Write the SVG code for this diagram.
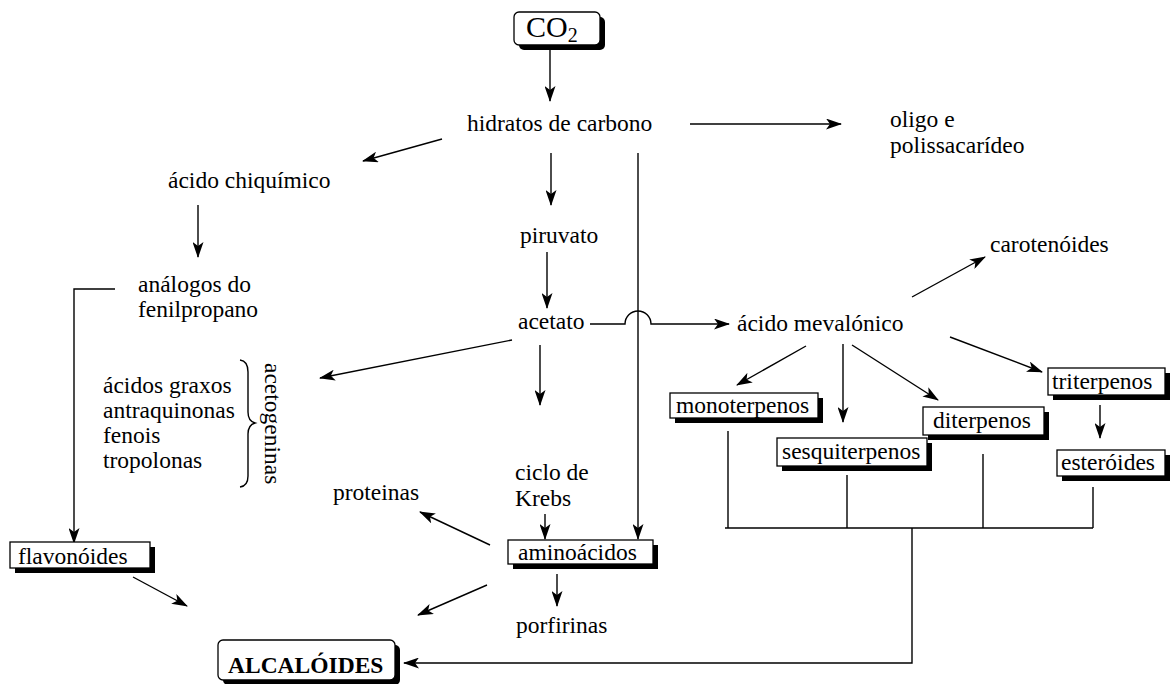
<svg xmlns="http://www.w3.org/2000/svg" width="1175" height="684" viewBox="0 0 1175 684">
<style>
text{font-family:"Liberation Serif","Times New Roman",serif;font-size:23.5px;fill:#000}
.b{font-weight:bold}
.ln{stroke:#000;stroke-width:1.4;fill:none}
.ar{stroke:#000;stroke-width:1.4;fill:none;marker-end:url(#ah)}
.sh{fill:#000}
.bx{fill:#fff;stroke:#000;stroke-width:1.3}
</style>
<defs>
<marker id="ah" viewBox="0 0 16 11" refX="15" refY="5.5" markerWidth="16" markerHeight="11" markerUnits="userSpaceOnUse" orient="auto"><path d="M0,0 L16,5.5 L0,11 L4,5.5 z" fill="#000"/></marker>
</defs>
<rect width="1175" height="684" fill="#fff"/>
<g id="connectors">
<line class="ar" x1="550" y1="50" x2="550" y2="101"/>
<line class="ar" x1="690" y1="124" x2="841" y2="124"/>
<line class="ar" x1="442" y1="139" x2="363" y2="161"/>
<line class="ar" x1="198" y1="205" x2="198" y2="257"/>
<polyline class="ar" points="115,289 74,289 74,543"/>
<line class="ar" x1="133" y1="577" x2="187" y2="606"/>
<line class="ar" x1="551" y1="153" x2="551" y2="205"/>
<line class="ar" x1="547" y1="252" x2="547" y2="308"/>
<line class="ar" x1="638" y1="153" x2="638" y2="539"/>
<path class="ar" d="M590,324 H625 A13,13 0 0 1 651,324 H729"/>
<line class="ar" x1="512" y1="340" x2="320" y2="378"/>
<line class="ar" x1="540" y1="345" x2="540" y2="405"/>
<line class="ar" x1="545" y1="514" x2="545" y2="539"/>
<line class="ar" x1="490" y1="545" x2="420" y2="512"/>
<line class="ar" x1="557" y1="574" x2="557" y2="606"/>
<line class="ar" x1="487" y1="585" x2="418" y2="615"/>
<line class="ar" x1="912" y1="297" x2="985" y2="257"/>
<line class="ar" x1="806" y1="346" x2="737" y2="385"/>
<line class="ar" x1="843" y1="344" x2="843" y2="422"/>
<line class="ar" x1="852" y1="345" x2="938" y2="400"/>
<line class="ar" x1="950" y1="337" x2="1042" y2="372"/>
<line class="ar" x1="1100" y1="405" x2="1100" y2="438"/>
<line class="ln" x1="728" y1="431" x2="728" y2="528"/>
<line class="ln" x1="847" y1="475" x2="847" y2="528"/>
<line class="ln" x1="983" y1="454" x2="983" y2="528"/>
<line class="ln" x1="1093" y1="487" x2="1093" y2="528"/>
<line class="ln" x1="725" y1="528" x2="1093" y2="528"/>
<polyline class="ar" points="912,528 912,663 404,663"/>
<path class="ln" d="M240,360 Q248,361 248,372 L248,412 Q248,421 255,423 Q248,425 248,434 L248,476 Q248,486 240,487"/>
</g>
<g id="co2">
<rect class="sh" x="519" y="17" width="86" height="33" rx="5"/>
<rect class="bx" x="514" y="12" width="86" height="33" rx="5"/>
<text x="526" y="37" style="font-size:30px">CO<tspan dy="5" style="font-size:20px">2</tspan></text>
</g>
<g id="hidratos"><text x="467" y="131">hidratos de carbono</text></g>
<g id="oligo"><text x="890" y="127">oligo e</text><text x="890" y="153">polissacarídeo</text></g>
<g id="chiquimico"><text x="168" y="188">ácido chiquímico</text></g>
<g id="analogos"><text x="138" y="292">análogos do</text><text x="138" y="317">fenilpropano</text></g>
<g id="piruvato"><text x="520" y="243">piruvato</text></g>
<g id="acetato"><text x="518" y="329">acetato</text></g>
<g id="mevalonico"><text x="737" y="331">ácido mevalónico</text></g>
<g id="carotenoides"><text x="990" y="252">carotenóides</text></g>
<g id="acetogeninas">
<text x="103" y="393">ácidos graxos</text>
<text x="103" y="418">antraquinonas</text>
<text x="103" y="443">fenois</text>
<text x="103" y="468">tropolonas</text>
<text transform="translate(265,363) rotate(90)">acetogeninas</text>
</g>
<g id="krebs"><text x="515" y="480">ciclo de</text><text x="515" y="506">Krebs</text></g>
<g id="proteinas"><text x="333" y="500">proteinas</text></g>
<g id="aminoacidos">
<rect class="sh" x="513" y="545" width="145" height="24"/>
<rect class="bx" x="508" y="540" width="145" height="24"/>
<text x="518" y="560">aminoácidos</text>
</g>
<g id="porfirinas"><text x="516" y="633">porfirinas</text></g>
<g id="flavonoides">
<rect class="sh" x="15" y="547" width="140" height="26"/>
<rect class="bx" x="10" y="542" width="140" height="26"/>
<text x="18" y="564">flavonóides</text>
</g>
<g id="alcaloides">
<rect class="sh" x="223" y="645" width="177" height="40" rx="5"/>
<rect class="bx" x="218" y="640" width="177" height="40" rx="5"/>
<text class="b" x="228" y="673">ALCALÓIDES</text>
</g>
<g id="monoterpenos">
<rect class="sh" x="675" y="398" width="148" height="25"/>
<rect class="bx" x="670" y="393" width="148" height="25"/>
<text x="676" y="413">monoterpenos</text>
</g>
<g id="sesquiterpenos">
<rect class="sh" x="782" y="443" width="150" height="28"/>
<rect class="bx" x="777" y="438" width="150" height="28"/>
<text x="782" y="459">sesquiterpenos</text>
</g>
<g id="diterpenos">
<rect class="sh" x="928" y="412" width="121" height="28"/>
<rect class="bx" x="923" y="407" width="121" height="28"/>
<text x="933" y="428">diterpenos</text>
</g>
<g id="triterpenos">
<rect class="sh" x="1053" y="373" width="117" height="27"/>
<rect class="bx" x="1048" y="368" width="117" height="27"/>
<text x="1052" y="389">triterpenos</text>
</g>
<g id="esteroides">
<rect class="sh" x="1062" y="455" width="108" height="26"/>
<rect class="bx" x="1057" y="450" width="108" height="26"/>
<text x="1061" y="470">esteróides</text>
</g>
</svg>
